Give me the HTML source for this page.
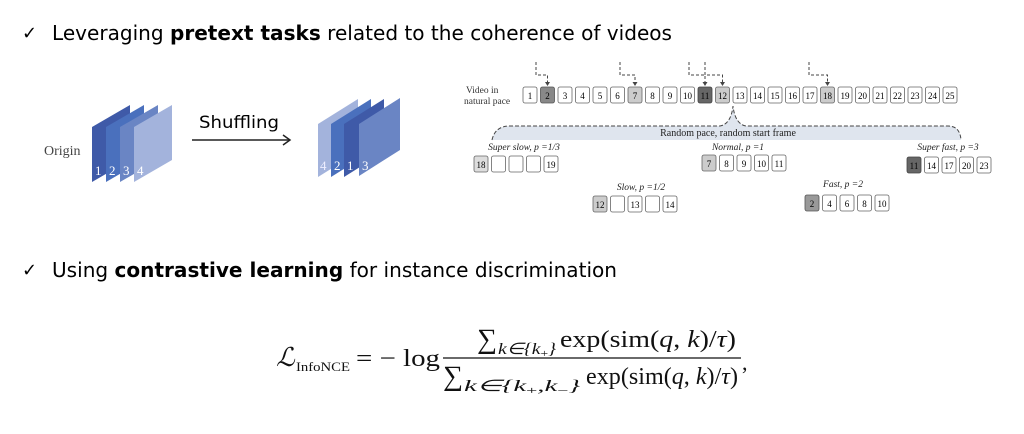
<!DOCTYPE html>
<html><head><meta charset="utf-8"><style>
html,body{margin:0;padding:0;background:#fff;}
svg{display:block;}
</style></head><body>
<svg width="1024" height="434" viewBox="0 0 1024 434" xmlns="http://www.w3.org/2000/svg">
<!-- headings -->
<text x="22" y="39" font-family="DejaVu Sans, sans-serif" font-size="18">✓</text>
<text x="52" y="40" font-family="DejaVu Sans, Liberation Sans, sans-serif" font-size="20" textLength="620" lengthAdjust="spacingAndGlyphs">Leveraging <tspan font-weight="bold">pretext tasks</tspan> related to the coherence of videos</text>
<text x="22" y="276" font-family="DejaVu Sans, sans-serif" font-size="18">✓</text>
<text x="52" y="277" font-family="DejaVu Sans, Liberation Sans, sans-serif" font-size="20" textLength="565" lengthAdjust="spacingAndGlyphs">Using <tspan font-weight="bold">contrastive learning</tspan> for instance discrimination</text>

<!-- origin stack -->
<text x="44" y="155" font-family="Liberation Serif, serif" font-size="14" fill="#444">Origin</text>
<polygon points="92,127 130,105 130,160 92,182" fill="#3f5aa8"/>
<polygon points="106,127 144,105 144,160 106,182" fill="#4a70bd"/>
<polygon points="120,127 158,105 158,160 120,182" fill="#6a85c4"/>
<polygon points="134,127 172,105 172,160 134,182" fill="#a3b3dc"/>
<g font-family="Liberation Serif, serif" font-size="13" fill="#fff">
<text x="95" y="175">1</text><text x="109" y="175">2</text><text x="123" y="175">3</text><text x="137" y="175">4</text></g>
<!-- arrow -->
<text x="199" y="128" font-family="DejaVu Sans, Liberation Sans, sans-serif" font-size="17" textLength="80" lengthAdjust="spacingAndGlyphs">Shuffling</text>
<line x1="192" y1="140" x2="289" y2="140" stroke="#222" stroke-width="1.5"/>
<path d="M283,135 L290,140 L283,145" fill="none" stroke="#222" stroke-width="1.5"/>
<!-- shuffled stack -->
<polygon points="318,124 358,99 358,152 318,177" fill="#a3b3dc"/>
<polygon points="331,124 371,99 371,152 331,177" fill="#4a70bd"/>
<polygon points="344,124 384,99 384,152 344,177" fill="#3f5aa8"/>
<polygon points="359,124 400,98 400,150 359,176" fill="#6a85c4"/>
<g font-family="Liberation Serif, serif" font-size="13" fill="#fff">
<text x="320" y="170" fill="#eef">4</text><text x="334" y="170">2</text><text x="347" y="170">1</text><text x="362" y="170">3</text></g>

<!-- video row -->
<text x="466" y="93" font-family="Liberation Serif, serif" font-size="9.5" fill="#333">Video in</text>
<text x="464" y="104" font-family="Liberation Serif, serif" font-size="9.5" fill="#333">natural pace</text>
<g font-family="Liberation Serif, serif" font-size="9" text-anchor="middle" stroke-width="0.8">
<rect x="523" y="87" width="14" height="16" rx="2" fill="#fff" stroke="#666"/><text x="530" y="99">1</text>
<rect x="540.5" y="87" width="14" height="16" rx="2" fill="#888" stroke="#555"/><text x="547.5" y="99">2</text>
<rect x="558" y="87" width="14" height="16" rx="2" fill="#fff" stroke="#666"/><text x="565" y="99">3</text>
<rect x="575.5" y="87" width="14" height="16" rx="2" fill="#fff" stroke="#666"/><text x="582.5" y="99">4</text>
<rect x="593" y="87" width="14" height="16" rx="2" fill="#fff" stroke="#666"/><text x="600" y="99">5</text>
<rect x="610.5" y="87" width="14" height="16" rx="2" fill="#fff" stroke="#666"/><text x="617.5" y="99">6</text>
<rect x="628" y="87" width="14" height="16" rx="2" fill="#ccc" stroke="#666"/><text x="635" y="99">7</text>
<rect x="645.5" y="87" width="14" height="16" rx="2" fill="#fff" stroke="#666"/><text x="652.5" y="99">8</text>
<rect x="663" y="87" width="14" height="16" rx="2" fill="#fff" stroke="#666"/><text x="670" y="99">9</text>
<rect x="680.5" y="87" width="14" height="16" rx="2" fill="#fff" stroke="#666"/><text x="687.5" y="99">10</text>
<rect x="698" y="87" width="14" height="16" rx="2" fill="#666" stroke="#444"/><text x="705" y="99">11</text>
<rect x="715.5" y="87" width="14" height="16" rx="2" fill="#ccc" stroke="#666"/><text x="722.5" y="99">12</text>
<rect x="733" y="87" width="14" height="16" rx="2" fill="#fff" stroke="#666"/><text x="740" y="99">13</text>
<rect x="750.5" y="87" width="14" height="16" rx="2" fill="#fff" stroke="#666"/><text x="757.5" y="99">14</text>
<rect x="768" y="87" width="14" height="16" rx="2" fill="#fff" stroke="#666"/><text x="775" y="99">15</text>
<rect x="785.5" y="87" width="14" height="16" rx="2" fill="#fff" stroke="#666"/><text x="792.5" y="99">16</text>
<rect x="803" y="87" width="14" height="16" rx="2" fill="#fff" stroke="#666"/><text x="810" y="99">17</text>
<rect x="820.5" y="87" width="14" height="16" rx="2" fill="#ccc" stroke="#666"/><text x="827.5" y="99">18</text>
<rect x="838" y="87" width="14" height="16" rx="2" fill="#fff" stroke="#666"/><text x="845" y="99">19</text>
<rect x="855.5" y="87" width="14" height="16" rx="2" fill="#fff" stroke="#666"/><text x="862.5" y="99">20</text>
<rect x="873" y="87" width="14" height="16" rx="2" fill="#fff" stroke="#666"/><text x="880" y="99">21</text>
<rect x="890.5" y="87" width="14" height="16" rx="2" fill="#fff" stroke="#666"/><text x="897.5" y="99">22</text>
<rect x="908" y="87" width="14" height="16" rx="2" fill="#fff" stroke="#666"/><text x="915" y="99">23</text>
<rect x="925.5" y="87" width="14" height="16" rx="2" fill="#fff" stroke="#666"/><text x="932.5" y="99">24</text>
<rect x="943" y="87" width="14" height="16" rx="2" fill="#fff" stroke="#666"/><text x="950" y="99">25</text>
</g>
<!-- dashed pointers -->
<g fill="none" stroke="#444" stroke-width="1" stroke-dasharray="3,2">
<path d="M536,62 V75 H547.5 V84"/><path d="M620,62 V75 H635 V84"/>
<path d="M689,62 V75 H705 V84"/><path d="M705,62 V75 H722.5 V84"/>
<path d="M809,62 V75 H827.5 V84"/>
</g>
<g fill="#444"><path d="M545,82 L550,82 L547.5,86z"/><path d="M632.5,82 L637.5,82 L635,86z"/><path d="M702.5,82 L707.5,82 L705,86z"/><path d="M720,82 L725,82 L722.5,86z"/><path d="M825,82 L830,82 L827.5,86z"/></g>

<!-- bracket -->
<path d="M492,140 Q495,126 510,126 L720,126 Q731,124 733,106 Q735,124 746,126 L948,126 Q960,126 961,140 Z" fill="#dfe5ee"/>
<path d="M492,140 Q495,126 510,126 L720,126 Q731,124 733,106 Q735,124 746,126 L948,126 Q960,126 961,140" fill="none" stroke="#444" stroke-dasharray="4,2"/>
<text x="728" y="136" font-family="Liberation Serif, serif" font-size="10" text-anchor="middle" fill="#222">Random pace, random start frame</text>

<!-- sub rows -->
<g font-family="Liberation Serif, serif" font-size="9.5" font-style="italic" text-anchor="middle" fill="#222">
<text x="524" y="150">Super slow, p =1/3</text>
<text x="738" y="150">Normal, p =1</text>
<text x="948" y="150">Super fast, p =3</text>
<text x="641" y="190">Slow, p =1/2</text>
<text x="843" y="187">Fast, p =2</text>
</g>
<g font-family="Liberation Serif, serif" font-size="9" text-anchor="middle" stroke-width="0.8">
<rect x="474" y="156" width="14" height="16" rx="2" fill="#ddd" stroke="#666"/><text x="481" y="168">18</text>
<rect x="491.5" y="156" width="14" height="16" rx="2" fill="#fff" stroke="#666"/>
<rect x="509" y="156" width="14" height="16" rx="2" fill="#fff" stroke="#666"/>
<rect x="526.5" y="156" width="14" height="16" rx="2" fill="#fff" stroke="#666"/>
<rect x="544" y="156" width="14" height="16" rx="2" fill="#fff" stroke="#666"/><text x="551" y="168">19</text>

<rect x="702" y="155" width="14" height="16" rx="2" fill="#ccc" stroke="#666"/><text x="709" y="167">7</text>
<rect x="719.5" y="155" width="14" height="16" rx="2" fill="#fff" stroke="#666"/><text x="726.5" y="167">8</text>
<rect x="737" y="155" width="14" height="16" rx="2" fill="#fff" stroke="#666"/><text x="744" y="167">9</text>
<rect x="754.5" y="155" width="14" height="16" rx="2" fill="#fff" stroke="#666"/><text x="761.5" y="167">10</text>
<rect x="772" y="155" width="14" height="16" rx="2" fill="#fff" stroke="#666"/><text x="779" y="167">11</text>

<rect x="907" y="157" width="14" height="16" rx="2" fill="#666" stroke="#444"/><text x="914" y="169">11</text>
<rect x="924.5" y="157" width="14" height="16" rx="2" fill="#fff" stroke="#666"/><text x="931.5" y="169">14</text>
<rect x="942" y="157" width="14" height="16" rx="2" fill="#fff" stroke="#666"/><text x="949" y="169">17</text>
<rect x="959.5" y="157" width="14" height="16" rx="2" fill="#fff" stroke="#666"/><text x="966.5" y="169">20</text>
<rect x="977" y="157" width="14" height="16" rx="2" fill="#fff" stroke="#666"/><text x="984" y="169">23</text>

<rect x="593" y="196" width="14" height="16" rx="2" fill="#ccc" stroke="#666"/><text x="600" y="208">12</text>
<rect x="610.5" y="196" width="14" height="16" rx="2" fill="#fff" stroke="#666"/>
<rect x="628" y="196" width="14" height="16" rx="2" fill="#fff" stroke="#666"/><text x="635" y="208">13</text>
<rect x="645.5" y="196" width="14" height="16" rx="2" fill="#fff" stroke="#666"/>
<rect x="663" y="196" width="14" height="16" rx="2" fill="#fff" stroke="#666"/><text x="670" y="208">14</text>

<rect x="805" y="195" width="14" height="16" rx="2" fill="#999" stroke="#555"/><text x="812" y="207">2</text>
<rect x="822.5" y="195" width="14" height="16" rx="2" fill="#fff" stroke="#666"/><text x="829.5" y="207">4</text>
<rect x="840" y="195" width="14" height="16" rx="2" fill="#fff" stroke="#666"/><text x="847" y="207">6</text>
<rect x="857.5" y="195" width="14" height="16" rx="2" fill="#fff" stroke="#666"/><text x="864.5" y="207">8</text>
<rect x="875" y="195" width="14" height="16" rx="2" fill="#fff" stroke="#666"/><text x="882" y="207">10</text>
</g>

<!-- formula -->
<g font-family="Liberation Serif, serif" fill="#111">
<text x="276" y="366" font-size="26" font-style="italic">ℒ</text>
<text x="296" y="371" font-size="13" textLength="54" lengthAdjust="spacingAndGlyphs">InfoNCE</text>
<text x="356" y="366" font-size="24" textLength="84" lengthAdjust="spacingAndGlyphs">= − log</text>
<text x="477" y="348" font-size="28">∑</text>
<text x="498" y="354" font-size="16" font-style="italic" textLength="58" lengthAdjust="spacingAndGlyphs">k∈{k<tspan font-size="11" font-style="normal" dy="3">+</tspan><tspan dy="-3">}</tspan></text>
<text x="560" y="347" font-size="24" textLength="176" lengthAdjust="spacingAndGlyphs">exp(sim(<tspan font-style="italic">q</tspan>, <tspan font-style="italic">k</tspan>)/<tspan font-style="italic">τ</tspan>)</text>
<line x1="443" y1="358" x2="741" y2="358" stroke="#111" stroke-width="1.3"/>
<text x="443" y="385" font-size="28">∑</text>
<text x="464" y="391" font-size="16" font-style="italic" textLength="116" lengthAdjust="spacingAndGlyphs">k∈{k<tspan font-size="11" font-style="normal" dy="3">+</tspan><tspan dy="-3">,k</tspan><tspan font-size="11" font-style="normal" dy="3">−</tspan><tspan dy="-3">}</tspan></text>
<text x="586" y="384" font-size="24" textLength="152" lengthAdjust="spacingAndGlyphs">exp(sim(<tspan font-style="italic">q</tspan>, <tspan font-style="italic">k</tspan>)/<tspan font-style="italic">τ</tspan>)</text>
<text x="742" y="370" font-size="22">,</text>
</g>
</svg>
</body></html>
